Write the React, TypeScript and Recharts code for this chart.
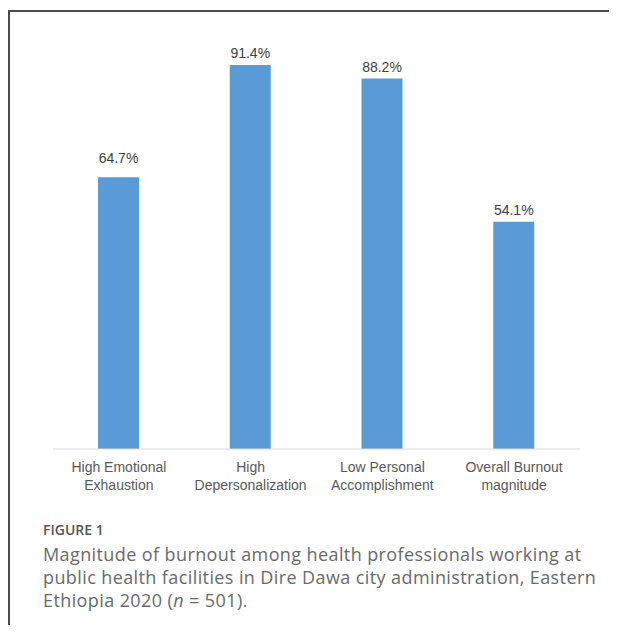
import React from "react";
import { BarChart, Bar, XAxis, YAxis, LabelList } from "recharts";

const categories = [
  "High Emotional Exhaustion",
  "High Depersonalization",
  "Low Personal Accomplishment",
  "Overall Burnout magnitude",
];
const categoryLines = [
  ["High Emotional", "Exhaustion"],
  ["High", "Depersonalization"],
  ["Low Personal", "Accomplishment"],
  ["Overall Burnout", "magnitude"],
];
const percentages = [64.7, 91.4, 88.2, 54.1];

const data = categories.map((name, i) => ({ name, value: percentages[i] }));

const CHART_FONT = "'Liberation Sans', Arial, sans-serif";

function CategoryTick(props: any) {
  const { x, y, payload } = props;
  const lines = categoryLines[payload.index] || [payload.value];
  return (
    <text x={x} y={y} textAnchor="middle" fill="#595959" fontSize={14} fontFamily={CHART_FONT}>
      {lines.map((l, i) => (
        <tspan key={i} x={x} dy={i === 0 ? 15 : 18}>
          {l}
        </tspan>
      ))}
    </text>
  );
}

function ValueLabel(props: any) {
  const { x, y, width, value, index } = props;
  // first label sits a little higher in the original figure
  const lift = index === 0 ? 14 : 7;
  return (
    <text x={x + width / 2} y={y - lift} textAnchor="middle" fill="#404040" fontSize={14} fontFamily={CHART_FONT}>
      {value}%
    </text>
  );
}

export default function App() {
  return (
    <div style={{ position: "relative", width: 617, height: 633, margin: -8, background: "#fff", overflow: "hidden" }}>
      <div
        style={{
          position: "absolute",
          left: 8,
          top: 10,
          width: 620,
          height: 640,
          borderTop: "2px solid #4a4a4a",
          borderLeft: "2px solid #4a4a4a",
          boxSizing: "border-box",
        }}
      />
      <div style={{ position: "absolute", left: 0, top: 0 }}>
        <BarChart width={617} height={500} data={data} margin={{ top: 29, right: 37, bottom: 0, left: 53 }}>
          <YAxis hide domain={[0, 100]} />
          <XAxis
            dataKey="name"
            height={51}
            axisLine={{ stroke: "#d9d9d9", strokeWidth: 1 }}
            tickLine={false}
            tick={<CategoryTick />}
            interval={0}
          />
          <Bar dataKey="value" fill="#5b9bd5" barSize={41} isAnimationActive={false}>
            <LabelList dataKey="value" content={<ValueLabel />} />
          </Bar>
        </BarChart>
      </div>
      <div
        style={{
          position: "absolute",
          left: 43,
          top: 521,
          fontFamily: "'Open Sans', Lato, sans-serif",
        }}
      >
        <div style={{ fontSize: 14, fontWeight: 600, lineHeight: "18px", color: "#555" }}>FIGURE 1</div>
        <div
          style={{
            marginTop: 4,
            fontSize: 18,
            letterSpacing: 0.4,
            lineHeight: "23px",
            whiteSpace: "nowrap",
            color: "#6a6a6a",
          }}
        >
          Magnitude of burnout among health professionals working at
          <br />
          public health facilities in Dire Dawa city administration, Eastern
          <br />
          Ethiopia 2020 (<i>n</i> = 501).
        </div>
      </div>
    </div>
  );
}
